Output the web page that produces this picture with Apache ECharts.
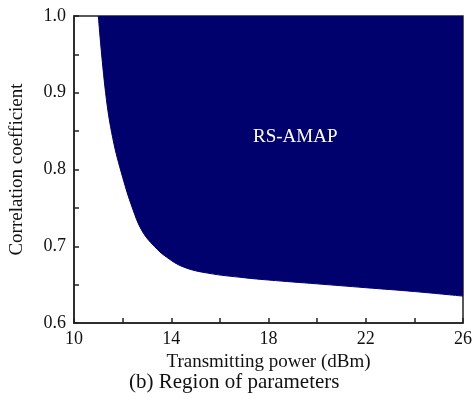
<!DOCTYPE html>
<html>
<head>
<meta charset="utf-8">
<script src="https://cdn.jsdelivr.net/npm/echarts@6/dist/echarts.min.js"></script>
<style>
  html, body { margin: 0; padding: 0; background: #fff; }
</style>
</head>
<body>
<div id="chart-container" style="width: 475px; height: 401px"></div>
<script>
// boundary of the RS-AMAP region (region lies above the curve)
const powerDbm = [11.0, 11.3, 11.6, 12.0, 12.4, 12.8, 13.3, 13.8, 14.5, 15.5, 17.0, 18.0, 20.0, 22.0, 24.0, 26.0];
const corrCoef = [1.0, 0.9, 0.84, 0.79, 0.75, 0.72, 0.70, 0.686, 0.673, 0.665, 0.659, 0.656, 0.651, 0.646, 0.641, 0.635];
const xTickLabels = ["10", "14", "18", "22", "26"];
const yTickLabels = ["0.6", "0.7", "0.8", "0.9", "1.0"];

const navy = "#01016e";
const serif = "Liberation Serif";

const boundary = powerDbm.map((x, i) => [x, corrCoef[i]]);

const myChart = echarts.init(document.getElementById("chart-container"));

const option = {
  animation: false,
  grid: {
    left: 72,
    right: 10,
    top: 16,
    bottom: 78,
    show: true,
    borderColor: "#222",
    borderWidth: 1.5,
    backgroundColor: "#fff",
  },
  xAxis: {
    type: "value",
    min: 10,
    max: 26,
    interval: 2,
    name: "Transmitting power (dBm)",
    nameLocation: "middle",
    nameGap: 29,
    nameTextStyle: { fontFamily: serif, fontSize: 19, color: "#111" },
    axisLine: { show: true, lineStyle: { color: "#222", width: 1.5 } },
    axisTick: { show: true, inside: true, length: 5, lineStyle: { color: "#222", width: 1.5 } },
    axisLabel: {
      fontFamily: serif,
      fontSize: 18,
      color: "#111",
      margin: 7,
      formatter: (v) => (xTickLabels.includes(String(v)) ? String(v) : ""),
    },
    splitLine: { show: false },
  },
  yAxis: {
    type: "value",
    min: 0.6,
    max: 1.0,
    interval: 0.05,
    name: "Correlation coefficient",
    nameLocation: "middle",
    nameGap: 47,
    nameTextStyle: { fontFamily: serif, fontSize: 19, color: "#111" },
    axisLine: { show: true, lineStyle: { color: "#222", width: 1.5 } },
    axisTick: { show: true, inside: true, length: 5, lineStyle: { color: "#222", width: 1.5 } },
    axisLabel: {
      fontFamily: serif,
      fontSize: 18,
      color: "#111",
      margin: 8,
      formatter: (v) => {
        const s = v.toFixed(1);
        return yTickLabels.includes(s) && Math.abs(v * 10 - Math.round(v * 10)) < 1e-6 ? s : "";
      },
    },
    splitLine: { show: false },
  },
  series: [
    {
      name: "RS-AMAP",
      type: "line",
      data: boundary,
      smooth: 0.4,
      showSymbol: false,
      lineStyle: { color: navy, width: 1 },
      areaStyle: { color: navy, opacity: 1, origin: "end" },
      z: 1,
    },
  ],
  graphic: [
    {
      type: "text",
      left: 253,
      top: 128,
      z: 10,
      style: {
        text: "RS-AMAP",
        fill: "#fff",
        font: "19px 'Liberation Serif'",
      },
    },
    {
      type: "text",
      left: 129,
      top: 372,
      style: {
        text: "(b) Region of parameters",
        fill: "#111",
        font: "21px 'Liberation Serif'",
      },
    },
  ],
};

myChart.setOption(option);
</script>
</body>
</html>
